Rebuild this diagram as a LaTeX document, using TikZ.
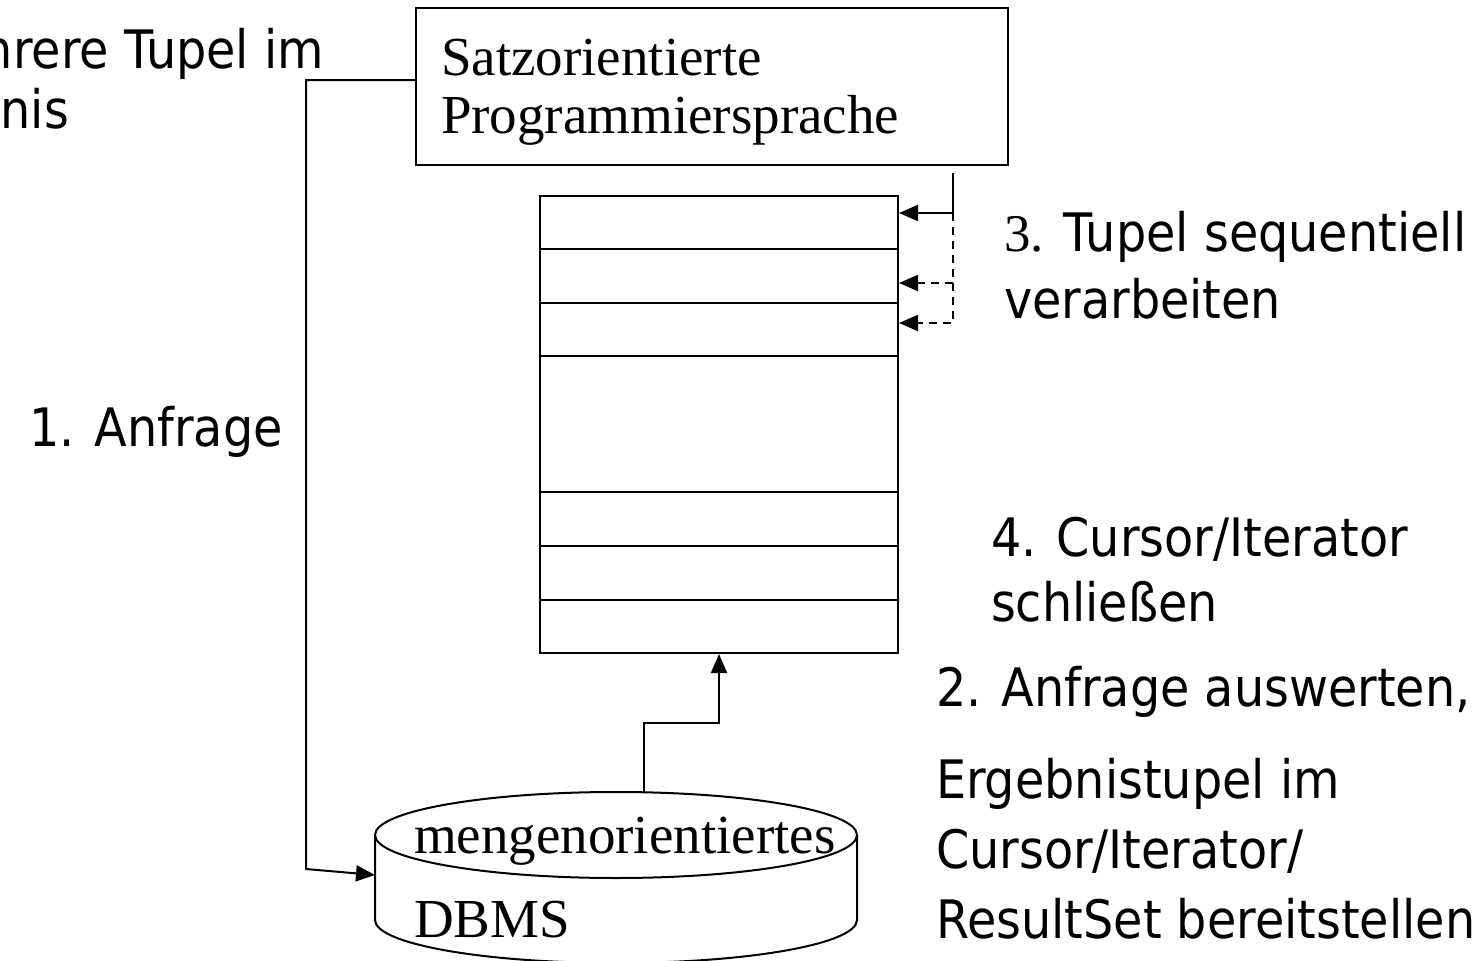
\documentclass[tikz,border=0pt]{standalone}
\usepackage{fontspec}
\setmainfont{Liberation Serif}
\newfontfamily\stepfont{DejaVu Sans}[FakeStretch=0.9]
\usetikzlibrary{arrows.meta}

\begin{document}
\begin{tikzpicture}[x=1pt, y=-1pt, line width=2pt,
        arr/.style={-{Triangle[length=19pt,width=16pt]}},
        dsh/.style={dash pattern=on 8pt off 6pt},
        lbl/.style={anchor=base west, align=left, inner sep=0pt,
            font=\stepfont\fontsize{53}{66}\selectfont},
        ser/.style={anchor=base west, align=left, inner sep=0pt,
            font=\fontsize{55}{58}\selectfont}]
        \useasboundingbox (0,0) rectangle (1481,961);
        \clip (0,0) rectangle (1481,961);

        \node[draw, minimum width=592pt, minimum height=157pt, inner sep=0pt] (prog) at (712,86.5) {};
        \node[ser] (progtxt) at (440,133) {Satzorientierte\\Programmiersprache};

        \node[draw, minimum width=358pt, minimum height=457pt, inner sep=0pt] (rs) at (719,424.5) {};
        \foreach \y in {249,303,356,492,546,600}
            \draw (540,\y) -- (898,\y);

        \draw (375,835) -- (375,920) arc[start angle=180, end angle=360, x radius=241pt, y radius=43pt] -- (857,835);
        \draw (616,835) ellipse [x radius=241pt, y radius=43pt];
        \node[ser] (db1) at (413,853) {mengenorientiertes};
        \node[ser] (db2) at (413,937) {DBMS};
        \coordinate (dbl) at (375,875);
        \coordinate (dbt) at (644,792);

        \coordinate (q0) at (306,80);
        \draw[arr] (prog.west |- q0) -- (q0) -- (306,869) -- (dbl);

        \coordinate (up1) at (644,723);
        \draw[arr] (dbt) -- (up1) -- (up1 -| rs.south) -- (rs.south);

        \coordinate (r0) at (953,173);
        \coordinate (r1) at (953,213);
        \coordinate (r2) at (953,283);
        \coordinate (r3) at (953,323);
        \draw[arr] (r0) -- (r1) -- (r1 -| rs.east);
        \draw[arr, dsh] (r1) -- (r3) -- (r3 -| rs.east);
        \draw[arr, dsh] (r2) -- (r2 -| rs.east);

        \node[lbl] (l1) at (28,446) {1. Anfrage};
        \node[lbl, font=\stepfont\fontsize{53}{67}\selectfont] (l3) at (1003,318) {{\rmfamily 3.} Tupel sequentiell\\verarbeiten};
        \node[lbl, font=\stepfont\fontsize{53}{65}\selectfont] (l4) at (990,621) {4. Cursor/Iterator\\schließen};
        \node[lbl, font=\stepfont\fontsize{53}{70}\selectfont] (l2) at (935,938) {2. Anfrage auswerten,\\[22pt]Ergebnistupel im\\Cursor/Iterator/\\ResultSet bereitstellen};
        \node[lbl, anchor=base east] (l5a) at (325,68) {mehrere Tupel im};
        \node[lbl, anchor=base east] (l5b) at (70,128) {Ergebnis};
\end{tikzpicture}
\end{document}
